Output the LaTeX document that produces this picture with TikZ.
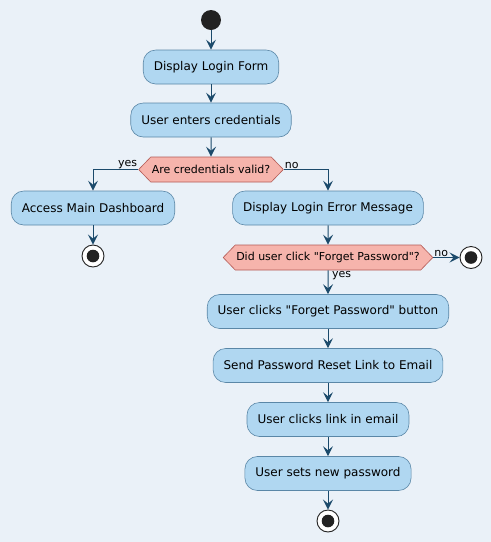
\documentclass[tikz,border=0pt]{standalone}
\usepackage{fontspec}
\setmainfont{DejaVu Sans}[Ligatures=TeXOff]
\usetikzlibrary{shapes.symbols, arrows.meta}
\definecolor{bgcol}{HTML}{EAF1F8}
\definecolor{actfill}{HTML}{B0D7F1}
\definecolor{actline}{HTML}{5A87A7}
\definecolor{arrowcol}{HTML}{1B4A6B}
\definecolor{decfill}{HTML}{F6B4AC}
\definecolor{decline}{HTML}{B45A55}
\definecolor{endcol}{HTML}{222222}
\tikzstyle{startnode} = [circle, fill=endcol, minimum size=20pt, inner sep=0pt]
\tikzstyle{stopnode} = [circle, draw=endcol, fill=white, line width=0.9pt, minimum size=22pt, inner sep=0pt, path picture={\fill[endcol] (path picture bounding box.center) circle (6.3pt);}]
\tikzstyle{action} = [rectangle, rounded corners=12.5pt, minimum height=34pt, inner xsep=10.5pt, inner ysep=2pt, text centered, draw=actline, line width=0.6pt, fill=actfill, font=\fontsize{12}{14}\selectfont]
\tikzstyle{decision} = [signal, signal to=east and west, signal pointer angle=92, minimum height=25pt, inner xsep=1pt, inner ysep=2pt, draw=decline, line width=0.6pt, fill=decfill, font=\fontsize{11}{13}\selectfont]
\tikzstyle{guard} = [inner sep=1pt, font=\fontsize{11}{13}\selectfont]
\tikzstyle{arrow} = [draw=arrowcol, line width=1pt, -{Stealth[length=10pt, width=10pt, inset=4pt]}]

\begin{document}
\begin{tikzpicture}[node distance=54pt]
        \fill[bgcol] (0,0) rectangle (491pt,-542pt);
        \useasboundingbox (0,0) rectangle (491pt,-542pt);

        \node (start) [startnode] at (211pt,-20pt) {};
        \node (LoginForm) [action, below of=start, yshift=7pt] {Display Login Form};
        \node (Credentials) [action, below of=LoginForm, yshift=1pt] {User enters credentials};
        \node (IsValid) [decision, below of=Credentials, yshift=4.5pt] {Are credentials valid?};
        \node (Dashboard) [action, below of=IsValid, xshift=-118pt, yshift=15.5pt] {Access Main Dashboard};
        \node (stopDashboard) [stopnode, below of=Dashboard, yshift=6pt] {};
        \node (LoginError) [action, below of=IsValid, xshift=117pt, yshift=15.5pt] {Display Login Error Message};
        \node (ClickedForget) [decision, below of=LoginError, yshift=4.5pt] {Did user click "Forget Password"?};
        \node (stopNoReset) [stopnode, right of=ClickedForget, xshift=89pt] {};
        \node (ForgetButton) [action, below of=ClickedForget] {User clicks "Forget Password" button};
        \node (SendLink) [action, below of=ForgetButton] {Send Password Reset Link to Email};
        \node (ClickLink) [action, below of=SendLink] {User clicks link in email};
        \node (NewPassword) [action, below of=ClickLink] {User sets new password};
        \node (stop) [stopnode, below of=NewPassword, yshift=6.5pt] {};

        \draw [arrow] (start) -- (LoginForm);
        \draw [arrow] (LoginForm) -- (Credentials);
        \draw [arrow] (Credentials) -- (IsValid);
        \draw [arrow] (IsValid.west) -| (Dashboard.north);
        \node [guard, anchor=south east] at (IsValid.west) {yes};
        \draw [arrow] (IsValid.east) -| (LoginError.north);
        \node [guard, anchor=south west] at (IsValid.east) {no};
        \draw [arrow] (Dashboard) -- (stopDashboard);
        \draw [arrow] (LoginError) -- (ClickedForget);
        \draw [arrow] (ClickedForget.east) -- (stopNoReset);
        \node [guard, anchor=south west] at (ClickedForget.east) {no};
        \draw [arrow] (ClickedForget) -- (ForgetButton);
        \node [guard, anchor=north west, xshift=3pt] at (ClickedForget.south) {yes};
        \draw [arrow] (ForgetButton) -- (SendLink);
        \draw [arrow] (SendLink) -- (ClickLink);
        \draw [arrow] (ClickLink) -- (NewPassword);
        \draw [arrow] (NewPassword) -- (stop);

\end{tikzpicture}
\end{document}
